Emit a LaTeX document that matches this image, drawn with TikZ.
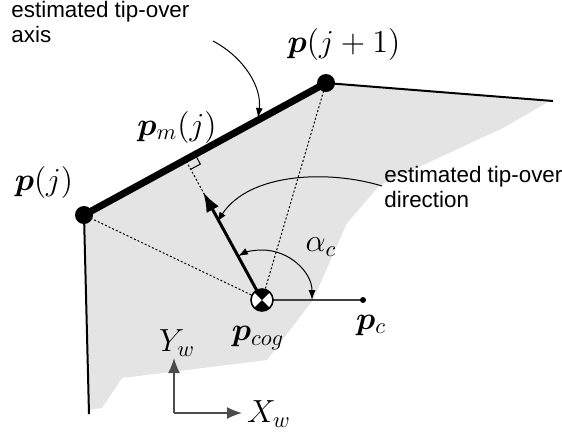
\documentclass[tikz,border=0pt]{standalone}
\usepackage{fix-cm}
\usepackage{amsmath,bm}
\usepackage{fontspec}
\newfontfamily\labelfont{Liberation Sans}
\usetikzlibrary{arrows.meta, positioning, calc}

\begin{document}
\begin{tikzpicture}[x=0.5pt, y=-0.5pt,
		vtx/.style={circle, fill=black, inner sep=0pt, minimum size=9pt},
		mlabel/.style={inner sep=0pt, font=\fontsize{16}{19}\selectfont},
		tlabel/.style={inner sep=0pt, align=left, anchor=north west, font=\labelfont\fontsize{11.2}{12.5}\selectfont},
		guide/.style={line width=0.5pt, dash pattern=on 1pt off 1pt},
		edge/.style={line width=1pt},
		pointer/.style={line width=0.5pt, -{Latex[length=5pt,width=3.5pt]}},
		frame/.style={black!70, line width=0.8pt, -{Latex[length=7.5pt,width=6pt]}}]
	\useasboundingbox (0,0) rectangle (562,436);
	\coordinate (pj) at (84,215);
	\coordinate (pjn) at (326,83);
	\coordinate (cog) at (262,300);
	\coordinate (pc) at (363,300);
	\coordinate (tr) at (553,101);
	\coordinate (bl) at (89,414);
	\coordinate (pm) at ($(pj)!(cog)!(pjn)$);
	\coordinate (o) at (174,413);

	\fill[gray!21] (pj) -- (pjn) -- (548,102) -- (503,128) -- (380,185) -- (347,223)
		-- (313,300) -- (267,360) -- (122,378) -- (102,408) -- (88,410) -- cycle;

	\draw[guide] (cog) -- (pj);
	\draw[guide] (cog) -- (pjn);
	\draw[guide] (cog) -- (pm);
	\coordinate (ra) at ($(pm)!5.5pt!(pjn)$);
	\coordinate (rb) at ($(pm)!5.5pt!(cog)$);
	\draw[line width=0.5pt] (ra) -- ($(ra)+(rb)-(pm)$) -- (rb);

	\draw[edge] (pjn) -- (tr);
	\draw[edge] (pj) -- (bl);
	\draw[line width=3.5pt] (pj) -- (pjn);
	\node[vtx] (vj) at (pj) {};
	\node[vtx] (vjn) at (pjn) {};

	\draw[black!75, line width=0.8pt] (cog) -- (pc);
	\node[circle, fill=black, inner sep=0pt, minimum size=3pt] (vc) at (pc) {};

	\draw[line width=1.5pt, -{Latex[length=10pt,width=7pt]}] (cog) -- ($(cog)!0.77!(pm)$);
	\draw[line width=0.5pt, {Latex[length=5pt,width=3.5pt]}-{Latex[length=5pt,width=3.5pt]}]
		($(cog)+(50,0)$) arc[start angle=0, end angle=-118.6, radius=50];

	\fill[white] (cog) circle (5.5pt);
	\fill[black] (cog) -- ++(45:5.5pt) arc[start angle=45, end angle=135, radius=5.5pt] -- cycle;
	\fill[black] (cog) -- ++(225:5.5pt) arc[start angle=225, end angle=315, radius=5.5pt] -- cycle;
	\draw[line width=0.8pt] (cog) circle (5.5pt);

	\draw[frame] (o) -- (174,358);
	\draw[frame] (o) -- (242,413);

	\node[tlabel] (taxis) at (11,1) {estimated tip-over\\axis};
	\node[tlabel] (tdir) at (384,166) {estimated tip-over\\direction};
	\draw[pointer] (213,41) .. controls (245,58) and (262,88) .. (258,118);
	\draw[pointer] (382,186) .. controls (330,170) and (250,172) .. (217,222);

	\node[mlabel] (lpjn) at (344,44) {$\bm{p}(j+1)$};
	\node[mlabel] (lpm) at (177,127) {$\bm{p}_m(j)$};
	\node[mlabel] (lpj) at (44,182) {$\bm{p}(j)$};
	\node[mlabel] (lcog) at (258,338) {$\bm{p}_{cog}$};
	\node[mlabel] (lpc) at (371,325) {$\bm{p}_c$};
	\node[mlabel] (lalpha) at (321,247) {$\alpha_c$};
	\node[mlabel] (lyw) at (177,343) {$Y_w$};
	\node[mlabel] (lxw) at (269,414) {$X_w$};
\end{tikzpicture}
\end{document}
